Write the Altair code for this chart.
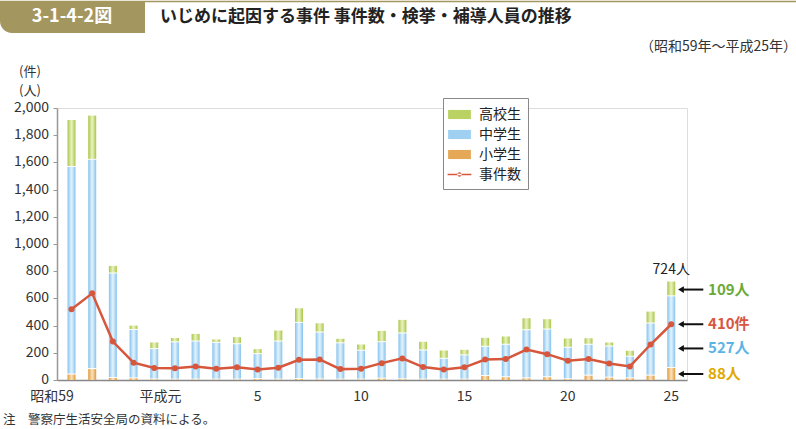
import altair as alt
import pandas as pd

# ---- data ----
years = list(range(1984, 2014))  # 昭和59 .. 平成25
elementary = [40, 80, 15, 12, 4, 3, 3, 3, 3, 7, 3, 7, 4, 3, 3, 10, 5, 3, 3, 3,
              29, 20, 12, 20, 5, 32, 17, 12, 32, 88]
junior_high = [1526, 1539, 768, 356, 223, 274, 280, 270, 260, 183, 280, 413, 345, 267, 212,
               268, 337, 214, 153, 178, 215, 239, 354, 351, 232, 227, 229, 159, 383, 527]
high_school = [346, 325, 56, 32, 49, 32, 56, 25, 52, 37, 81, 107, 68, 33, 46,
               83, 100, 64, 61, 41, 66, 61, 88, 76, 68, 48, 30, 44, 88, 109]
cases = [520, 637, 283, 127, 88, 87, 100, 83, 93, 78, 90, 149, 151, 80, 83,
         124, 159, 95, 78, 93, 151, 154, 224, 190, 142, 154, 122, 100, 261, 410]

series_names = ["高校生", "中学生", "小学生", "事件数"]
y_ticks = [0, 200, 400, 600, 800, 1000, 1200, 1400, 1600, 1800, 2000]
y_tick_labels = ["0", "200", "400", "600", "800", "1,000", "1,200", "1,400", "1,600",
                 "1,800", "2,000"]
x_tick_pos = [1983.06, 1988.3, 1993, 1998, 2003, 2008, 2013]
x_tick_labels = ["昭和59", "平成元", "5", "10", "15", "20", "25"]

ann_values = [665, 410, 232, 44]
ann_labels = ["109人", "410件", "527人", "88人"]
ann_colors = ["#6aaa3a", "#d9573f", "#5bb4e5", "#e0a800"]
total_label = "724人"

FONT = "Noto Sans CJK JP"

df = pd.DataFrame({"year": years, "el": elementary, "jh": junior_high,
                   "hs": high_school, "cases": cases})
df["s1"] = df["el"]
df["s2"] = df["el"] + df["jh"]
df["s3"] = df["el"] + df["jh"] + df["hs"]

x_scale = alt.Scale(domain=[1983.54, 2013.52], nice=False, zero=False)
y_scale = alt.Scale(domain=[0, 2000], nice=False, zero=True)
x_axis = alt.Axis(values=[], labels=False, ticks=False, title=None, grid=False,
                  domainColor="#888", domainWidth=1.5)
y_axis = alt.Axis(values=y_ticks, labels=False, grid=False, domainColor="#999",
                  domainWidth=1.5, tickColor="#999", tickSize=4, title=None)


def X(field):
    return alt.X(field, scale=x_scale, axis=x_axis)


def Y(field):
    return alt.Y(field, scale=y_scale, axis=y_axis)


def grad(edge, center):
    return alt.Gradient(gradient="linear", x1=0, x2=1, y1=0, y2=0,
                        stops=[alt.GradientStop(color=edge, offset=0),
                               alt.GradientStop(color=center, offset=0.45),
                               alt.GradientStop(color=center, offset=0.55),
                               alt.GradientStop(color=edge, offset=1)])


base = alt.Chart(df)
bar_el = base.mark_bar(size=8, fill=grad("#e0993a", "#f7dcb4")).encode(
    x=X("year:Q"), y=Y("s1:Q"), y2=alt.datum(0))
bar_jh = base.mark_bar(size=8, fill=grad("#86c2ee", "#dcf0fc"), y2Offset=-1).encode(
    x=X("year:Q"), y=Y("s2:Q"), y2="s1:Q")
bar_hs = base.mark_bar(size=8, fill=grad("#a8c646", "#e6efb8"), y2Offset=-1).encode(
    x=X("year:Q"), y=Y("s3:Q"), y2="s2:Q")
line = base.mark_line(color="#d6573c", strokeWidth=2.5).encode(x=X("year:Q"), y=Y("cases:Q"))
pts = base.mark_point(filled=True, color="#d6573c", size=36, opacity=1).encode(
    x=X("year:Q"), y=Y("cases:Q"))

# axis labels as text driven by the scales
ylab_df = pd.DataFrame({"v": y_ticks, "lab": y_tick_labels})
ylabels = alt.Chart(ylab_df).mark_text(align="right", baseline="middle", fontSize=14,
                                       color="#333", font=FONT, dx=-8).encode(
    x=alt.value(0), y=Y("v:Q"), text="lab:N")
xlab_df = pd.DataFrame({"p": x_tick_pos, "lab": x_tick_labels})
xlabels = alt.Chart(xlab_df).mark_text(align="center", baseline="middle", fontSize=14,
                                       color="#333", font=FONT).encode(
    x=X("p:Q"), y=alt.value(289), text="lab:N")

# legend (invisible points feed a real legend)
leg_df = pd.DataFrame({"series": series_names, "year": [1984] * 4, "v": [0] * 4})
rect_path = "M-1.2,-0.48L1.2,-0.48L1.2,0.48L-1.2,0.48Z"
line_path = ("M-1.25,-0.08L1.25,-0.08L1.25,0.08L-1.25,0.08Z "
             "M-0.23,0A0.23,0.23 0 1 0 0.23,0A0.23,0.23 0 1 0 -0.23,0Z")
leg = alt.Legend(title=None, orient="none", legendX=386, legendY=-10, symbolSize=361,
                 symbolOpacity=1, symbolStrokeWidth=0, labelFontSize=14, labelColor="#222",
                 labelFont=FONT, padding=7, strokeColor="#888", fillColor="white",
                 rowPadding=3, labelOffset=10)
legend_layer = alt.Chart(leg_df).mark_point(filled=True, opacity=0).encode(
    x=X("year:Q"), y=Y("v:Q"),
    color=alt.Color("series:N", scale=alt.Scale(domain=series_names,
                    range=["#b9d262", "#9fd0f2", "#e5a856", "#d6573c"]), legend=leg),
    shape=alt.Shape("series:N", scale=alt.Scale(domain=series_names,
                    range=[rect_path, rect_path, rect_path, line_path]), legend=leg))

# annotations at the last bar (one layer per colour, no colour scale)
ann_layers = []
for v, lab, col in zip(ann_values, ann_labels, ann_colors):
    a = pd.DataFrame({"v": [v], "label": [lab], "x0": [2013.55], "x1": [2014.55],
                      "xh": [2013.47], "xt": [2014.78]})
    ann_layers.append(alt.Chart(a).mark_rule(color="#111", strokeWidth=2).encode(
        x=X("x0:Q"), x2="x1:Q", y=Y("v:Q")))
    ann_layers.append(alt.Chart(a).mark_point(shape="triangle-left", filled=True, color="#111",
                                              size=45, opacity=1).encode(
        x=X("xh:Q"), y=Y("v:Q")))
    ann_layers.append(alt.Chart(a).mark_text(align="left", baseline="middle", fontSize=15,
                                             fontWeight="bold", font=FONT, color=col).encode(
        x=X("xt:Q"), y=Y("v:Q"), text="label:N"))
tot_df = pd.DataFrame({"year": [years[-1]], "v": [df["s3"].iloc[-1]], "t": [total_label]})
tot_text = alt.Chart(tot_df).mark_text(baseline="bottom", fontSize=14, dy=-5, color="#222",
                                       font=FONT).encode(x=X("year:Q"), y=Y("v:Q"), text="t:N")

# header / footer / unit labels
one = pd.DataFrame({"k": [0]})
unit1 = alt.Chart(one).mark_text(text="(件)", color="#333", fontSize=13, font=FONT,
                                 align="center", baseline="middle").encode(
    x=alt.value(-27), y=alt.value(-36))
unit2 = alt.Chart(one).mark_text(text="(人)", color="#333", fontSize=13, font=FONT,
                                 align="center", baseline="middle").encode(
    x=alt.value(-27), y=alt.value(-17))
top_line = alt.Chart(one).mark_rule(color="#a4965f", strokeWidth=1.5).encode(
    x=alt.value(-57), x2=alt.value(739), y=alt.value(-106.5))
box = alt.Chart(one).mark_rect(color="#a4965f", cornerRadiusBottomLeft=12).encode(
    x=alt.value(-57), x2=alt.value(88), y=alt.value(-107), y2=alt.value(-75))
box_text = alt.Chart(one).mark_text(text="3-1-4-2図", color="white", fontSize=18,
                                    fontWeight="bold", font=FONT, align="center",
                                    baseline="middle").encode(x=alt.value(15), y=alt.value(-91))
title = alt.Chart(one).mark_text(text="いじめに起因する事件 事件数・検挙・補導人員の推移",
                                 color="#222", fontSize=17, fontWeight="bold", font=FONT,
                                 align="left", baseline="middle").encode(
    x=alt.value(103), y=alt.value(-91))
subtitle = alt.Chart(one).mark_text(text="（昭和59年～平成25年）", color="#333", fontSize=14,
                                    font=FONT, align="right", baseline="middle").encode(
    x=alt.value(740), y=alt.value(-61))
footer = alt.Chart(one).mark_text(text="注　警察庁生活安全局の資料による。", color="#333",
                                  fontSize=12.5, font=FONT, align="left",
                                  baseline="middle").encode(x=alt.value(-54), y=alt.value(312))

chart = alt.layer(
    bar_el, bar_jh, bar_hs, line, pts, ylabels, xlabels, *ann_layers, tot_text, legend_layer,
    unit1, unit2, top_line, box, box_text, title, subtitle, footer
).properties(
    width=630, height=272,
    autosize=alt.AutoSizeParams(type="none"),
    padding={"left": 57, "top": 108, "right": 109, "bottom": 49},
).configure_view(stroke=None).configure(font=FONT)

chart.save("out.html", embed_options={"renderer": "svg", "actions": False})
